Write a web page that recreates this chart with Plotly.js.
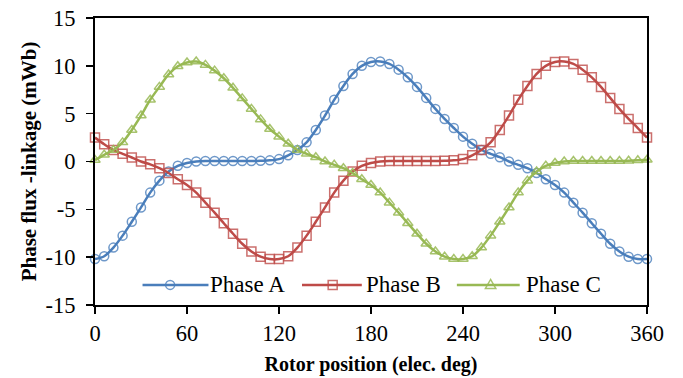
<!DOCTYPE html>
<html>
<head>
<meta charset="utf-8">
<script src="https://cdn.plot.ly/plotly-3.0.1.min.js"></script>
<style>html,body{margin:0;padding:0;background:#fff;}#chart{width:683px;height:378px;}</style>
</head>
<body>
<div id="chart"></div>
<script>
// Rotor position (elec. deg), every 6 degrees
var rotorPos = [];
for (var d = 0; d <= 360; d += 6) rotorPos.push(d);

var phaseA = [-10.2,-9.9,-9.0,-7.75,-6.3,-4.8,-3.25,-2.0,-1.05,-0.45,-0.15,0.0,0.05,0.05,0.05,0.05,0.05,0.05,0.08,0.12,
  0.25,0.65,1.2,2.0,3.3,4.8,6.45,7.9,9.15,10.0,10.4,10.45,10.2,9.6,8.8,7.8,6.65,5.5,4.45,3.5,
  2.6,1.85,1.2,0.8,0.45,0.0,-0.35,-0.7,-1.2,-1.85,-2.45,-3.25,-4.3,-5.35,-6.45,-7.55,-8.6,-9.4,-9.95,-10.2,-10.2];
var phaseB = [2.5,1.8,1.2,0.8,0.42,0.0,-0.3,-0.7,-1.2,-1.85,-2.45,-3.25,-4.3,-5.35,-6.45,-7.55,-8.6,-9.4,-9.95,-10.2,
  -10.2,-9.9,-9.0,-7.75,-6.3,-4.8,-3.25,-2.0,-1.05,-0.45,-0.15,0.0,0.05,0.05,0.05,0.05,0.05,0.05,0.08,0.12,
  0.25,0.65,1.2,2.0,3.3,4.8,6.45,7.9,9.15,10.0,10.4,10.45,10.2,9.6,8.8,7.8,6.65,5.5,4.45,3.5,2.5];
var phaseC = [0.15,0.7,1.2,2.0,3.3,4.8,6.45,7.8,9.1,9.95,10.35,10.45,10.1,9.5,8.7,7.7,6.6,5.5,4.4,3.4,
  2.6,1.85,1.2,0.8,0.45,0.0,-0.35,-0.7,-1.2,-1.85,-2.45,-3.25,-4.3,-5.35,-6.45,-7.55,-8.6,-9.4,-9.95,-10.2,
  -10.2,-9.9,-9.0,-7.75,-6.3,-4.8,-3.25,-2.0,-1.05,-0.45,-0.15,0.0,0.05,0.05,0.05,0.05,0.05,0.05,0.08,0.12,0.18];

var seriesNames = ['Phase A','Phase B','Phase C'];
var seriesColors = ['#4A7EBB','#BE4B48','#98B954'];
var markerColors = ['rgba(74,126,187,0.8)','rgba(190,75,72,0.8)','rgba(152,185,84,0.85)'];
var symbols = ['circle-open','square-open','triangle-up-open'];
var xTicks = [0,60,120,180,240,300,360];
var yTicks = [-15,-10,-5,0,5,10,15];
var yTickText = ['-15','-10','-5','0','5','10','15'];

var font = 'Liberation Serif, Times New Roman, serif';
var ys = [phaseA, phaseB, phaseC];
var traces = ys.map(function(y, i) {
  return {
    x: rotorPos, y: y, name: seriesNames[i], type: 'scatter', mode: 'lines+markers',
    cliponaxis: false,
    line: {color: seriesColors[i], width: 2.5, shape: 'spline', smoothing: 0.8},
    marker: {symbol: symbols[i], size: 9, color: markerColors[i], line: {width: 1.5, color: markerColors[i]}}
  };
});

// custom legend (line + marker + label)
var legY = -12.9;
var legLines = [[31, 74], [135, 174], [236, 277]];
var legMarks = [49, 155, 258];
var legText = [73.5, 175.5, 280];
var shapes = [], annotations = [];
for (var i = 0; i < 3; i++) {
  shapes.push({type: 'line', xref: 'x', yref: 'y', x0: legLines[i][0], x1: legLines[i][1], y0: legY, y1: legY,
    line: {color: seriesColors[i], width: 2.5}});
  annotations.push({xref: 'x', yref: 'y', x: legText[i], y: legY, text: seriesNames[i], showarrow: false,
    xanchor: 'left', yanchor: 'middle', font: {family: font, size: 23, color: '#000'}});
}
shapes.push({type: 'circle', xref: 'x', yref: 'y', xsizemode: 'pixel', ysizemode: 'pixel',
  xanchor: legMarks[0], yanchor: legY, x0: -4.5, x1: 4.5, y0: -4.5, y1: 4.5,
  line: {color: markerColors[0], width: 1.5}, fillcolor: 'rgba(0,0,0,0)'});
shapes.push({type: 'rect', xref: 'x', yref: 'y', xsizemode: 'pixel', ysizemode: 'pixel',
  xanchor: legMarks[1], yanchor: legY, x0: -4.5, x1: 4.5, y0: -4.5, y1: 4.5,
  line: {color: markerColors[1], width: 1.5}, fillcolor: 'rgba(0,0,0,0)'});
shapes.push({type: 'path', xref: 'x', yref: 'y', xsizemode: 'pixel', ysizemode: 'pixel',
  xanchor: legMarks[2], yanchor: legY, path: 'M-5.2,-3.5L5.2,-3.5L0,5.5Z',
  line: {color: markerColors[2], width: 1.5}, fillcolor: 'rgba(0,0,0,0)'});

var layout = {
  width: 683, height: 378,
  margin: {l: 95, r: 36, t: 18, b: 73, pad: 0},
  paper_bgcolor: '#fff', plot_bgcolor: '#fff',
  showlegend: false,
  font: {family: font, color: '#000', size: 22},
  xaxis: {
    range: [0, 360], tickvals: xTicks, ticktext: xTicks.map(String),
    ticks: 'outside', ticklen: 7, tickwidth: 1.5, tickcolor: '#000',
    showline: true, linewidth: 2, linecolor: '#000', mirror: true,
    showgrid: false, zeroline: false,
    tickfont: {family: font, size: 22.5, color: '#000'},
    title: {text: 'Rotor position (elec. deg)', font: {family: font, size: 20, weight: 'bold', color: '#000'}, standoff: 12}
  },
  yaxis: {
    range: [-15, 15], tickvals: yTicks, ticktext: yTickText,
    ticks: 'outside', ticklen: 7, tickwidth: 1.5, tickcolor: '#000',
    ticklabelstandoff: 6,
    showline: true, linewidth: 2, linecolor: '#000', mirror: true,
    showgrid: false, zeroline: false,
    tickfont: {family: font, size: 22.5, color: '#000'},
    title: {text: 'Phase flux -linkage (mWb)', font: {family: font, size: 21, weight: 'bold', color: '#000'}, standoff: 3}
  },
  shapes: shapes,
  annotations: annotations
};

Plotly.newPlot('chart', traces, layout, {displayModeBar: false, staticPlot: true});
</script>
</body>
</html>
